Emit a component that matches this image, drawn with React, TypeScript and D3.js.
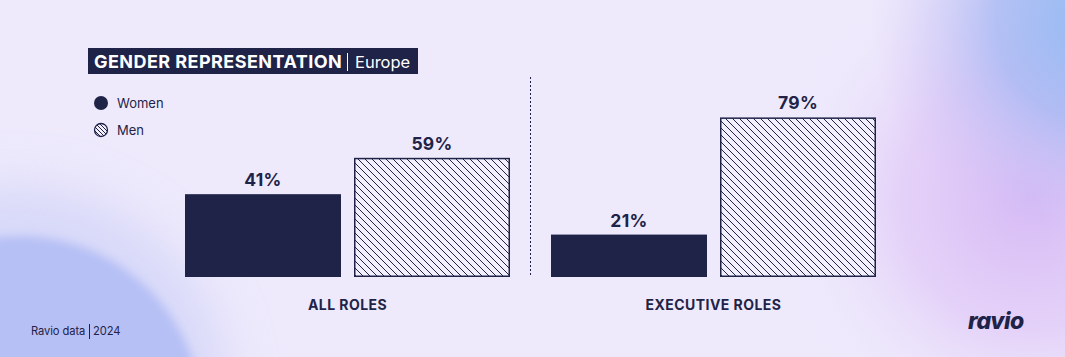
import React from "react";
import * as d3 from "d3";

const categories = ["ALL ROLES", "EXECUTIVE ROLES"];
const series = ["Women", "Men"];
const womenValues = [41, 21];
const menValues = [59, 79];

const W = 1065;
const H = 357;
const NAVY = "#1f2347";
const FONT = "Inter, sans-serif";

export default function App() {
  const x0 = d3.scaleBand<string>().domain(categories).range([185, 876]).paddingInner(0.112);
  const x1 = d3.scaleBand<string>().domain(series).range([0, x0.bandwidth()]).paddingInner(0.077);
  const y = d3.scaleLinear().domain([0, 100]).range([277, 75]);

  const valuesBySeries: Record<string, number[]> = { Women: womenValues, Men: menValues };
  const dividerX = (x0(categories[0])! + x0.bandwidth() + x0(categories[1])!) / 2;

  return (
    <svg width={W} height={H} style={{ position: "absolute", left: 0, top: 0, display: "block" }}>
      <defs>
        <filter id="blur8" x="-50%" y="-50%" width="200%" height="200%">
          <feGaussianBlur stdDeviation="5" />
        </filter>
        <filter id="blur30" x="-50%" y="-50%" width="200%" height="200%">
          <feGaussianBlur stdDeviation="25" />
        </filter>
        <radialGradient id="blobTR" cx="1100" cy="20" r="230" gradientUnits="userSpaceOnUse">
          <stop offset="0" stopColor="#8fbbf2" stopOpacity="1" />
          <stop offset="0.45" stopColor="#a6b8f3" stopOpacity="0.8" />
          <stop offset="1" stopColor="#d7c3f6" stopOpacity="0" />
        </radialGradient>
        <radialGradient id="blobPink" cx="1030" cy="200" r="260" gradientUnits="userSpaceOnUse">
          <stop offset="0" stopColor="#d6baf5" stopOpacity="1" />
          <stop offset="0.5" stopColor="#e0c7f7" stopOpacity="0.7" />
          <stop offset="1" stopColor="#eeeafc" stopOpacity="0" />
        </radialGradient>
        <pattern id="hatch" width="7" height="7" patternUnits="userSpaceOnUse">
          <rect width="7" height="7" fill="#f3effc" />
          <path d="M0,0 L7,7 M-1,6 L1,8 M6,-1 L8,1" stroke={NAVY} strokeWidth="1" />
        </pattern>
        <pattern id="hatchSmall" width="4" height="4" patternUnits="userSpaceOnUse">
          <rect width="4" height="4" fill="#f3effc" />
          <path d="M0,0 L4,4 M-1,3 L1,5 M3,-1 L5,1" stroke={NAVY} strokeWidth="1" />
        </pattern>
      </defs>

      <rect width={W} height={H} fill="#eeeafc" />
      <rect width={W} height={H} fill="url(#blobPink)" />
      <rect width={W} height={H} fill="url(#blobTR)" />
      <circle cx={15} cy={400} r={215} fill="#c9cdf7" opacity={0.6} filter="url(#blur30)" />
      <circle cx={20} cy={418} r={182} fill="#b6c0f5" filter="url(#blur8)" />

      {/* Title */}
      <rect x={88} y={48} width={330} height={26} fill={NAVY} />
      <text x={94} y={68} fontFamily={FONT} fontSize={18} fontWeight={700} letterSpacing={0.45} fill="#ffffff">
        GENDER REPRESENTATION
      </text>
      <line x1={347.5} x2={347.5} y1={53} y2={71} stroke="#ffffff" strokeWidth={1} />
      <text x={355} y={68} fontFamily={FONT} fontSize={16.5} fill="#ffffff">Europe</text>

      {/* Legend */}
      <circle cx={101} cy={103} r={7} fill={NAVY} />
      <text x={117} y={108} fontFamily={FONT} fontSize={13} fill={NAVY}>Women</text>
      <circle cx={101} cy={130} r={6.5} fill="url(#hatchSmall)" stroke={NAVY} strokeWidth={1.3} />
      <text x={117} y={135} fontFamily={FONT} fontSize={13} fill={NAVY}>Men</text>

      {/* Divider */}
      <line x1={dividerX} x2={dividerX} y1={77} y2={277} stroke={NAVY} strokeWidth={1} strokeDasharray="2,2" />

      {/* Bars */}
      {categories.map((c, i) => (
        <g key={c} transform={`translate(${x0(c)},0)`}>
          {series.map((s) => {
            const v = valuesBySeries[s][i];
            const bx = x1(s)!;
            const bw = x1.bandwidth();
            return (
              <g key={s}>
                {s === "Women" ? (
                  <rect x={bx} y={y(v)} width={bw} height={y(0) - y(v)} fill={NAVY} />
                ) : (
                  <rect
                    x={bx + 0.75}
                    y={y(v) + 0.75}
                    width={bw - 1.5}
                    height={y(0) - y(v) - 1.5}
                    fill="url(#hatch)"
                    stroke={NAVY}
                    strokeWidth={1.5}
                  />
                )}
                <text
                  x={bx + bw / 2}
                  y={y(v) - 8}
                  textAnchor="middle"
                  fontFamily={FONT}
                  fontWeight={700}
                  fontSize={17.5}
                  letterSpacing={0.3}
                  fill={NAVY}
                >
                  {v}%
                </text>
              </g>
            );
          })}
          <text
            x={x0.bandwidth() / 2}
            y={310}
            textAnchor="middle"
            fontFamily={FONT}
            fontWeight={700}
            fontSize={14}
            letterSpacing={0.45}
            fill={NAVY}
          >
            {c}
          </text>
        </g>
      ))}

      {/* Footer */}
      <text x={31} y={335} fontFamily={FONT} fontSize={11.2} letterSpacing={-0.1} fill={NAVY}>Ravio data</text>
      <line x1={89.5} x2={89.5} y1={324} y2={339} stroke={NAVY} strokeWidth={1} />
      <text x={93} y={335} fontFamily={FONT} fontSize={11.2} letterSpacing={-0.1} fill={NAVY}>2024</text>
      <text
        x={968}
        y={329}
        fontFamily={FONT}
        fontWeight={800}
        fontStyle="italic"
        fontSize={23}
        letterSpacing={-0.5}
        fill={NAVY}
      >
        ravio
      </text>
    </svg>
  );
}
